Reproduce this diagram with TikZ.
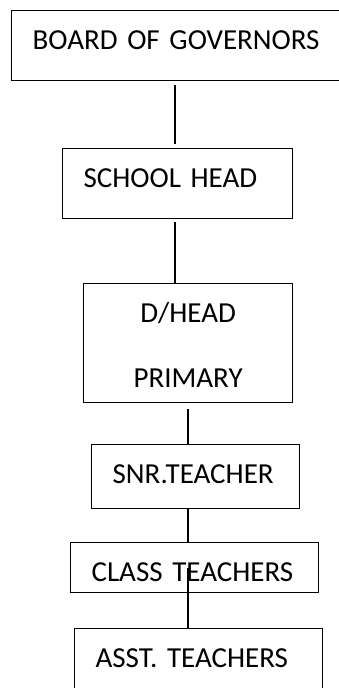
\documentclass[tikz,border=0pt]{standalone}
\usepackage{fontspec}
\setmainfont{Carlito}
\usetikzlibrary{calc}

\begin{document}
\begin{tikzpicture}[x=1pt,y=-1pt]
                \tikzstyle{box}=[draw, line width=1.2pt, rectangle, anchor=north west, inner xsep=21pt, inner ysep=0pt, align=left, text height=39pt, font=\fontsize{29}{35}\selectfont]
                \tikzstyle{link}=[line width=1.2pt]
                \useasboundingbox (0,0) rectangle (338,688);
                \coordinate (spine1) at (175,0);
                \coordinate (spine2) at (188,0);

                \node[box, text width=307pt, text depth=31pt] (board) at (11,10) {BOARD OF GOVERNORS};
                \node[box, text width=188pt, text depth=31pt] (school) at (62,148) {SCHOOL HEAD};
                \node[box, text width=167pt, text depth=80pt, align=center, font=\fontsize{29}{65}\selectfont] (dhead) at (83,283) {D/HEAD\\PRIMARY};
                \node[box, text width=166pt, text depth=25pt] (snr) at (91,444) {SNR.TEACHER};
                \node[box, text width=206pt, text depth=11pt] (class) at (70,542) {CLASS TEACHERS};
                \node[box, text width=206pt, text depth=41pt] (asst) at (74,628) {ASST. TEACHERS};

                \draw[link] ($(board.south -| spine1)+(0,4)$) -- ($(school.north -| spine1)+(0,-4)$);
                \draw[link] ($(school.south -| spine1)+(0,3)$) -- (dhead.north -| spine1);
                \draw[link] ($(dhead.south -| spine2)+(0,6)$) -- (snr.north -| spine2);
                \draw[link] (snr.south -| spine2) -- (class.north -| spine2);
                \draw[link] (class.center -| spine2) -- (asst.north -| spine2);

\end{tikzpicture}
\end{document}
